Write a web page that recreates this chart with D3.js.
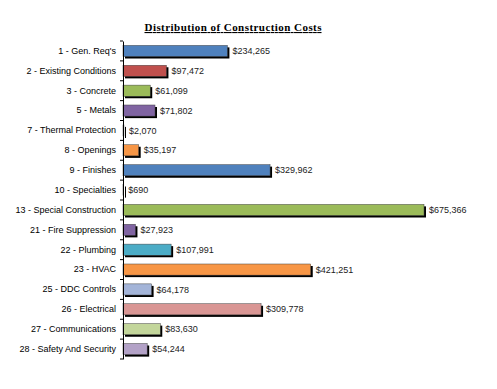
<!DOCTYPE html>
<html>
<head>
<style>
  body { margin: 0; background: #fff; }
  text { font-family: "Liberation Sans", Arial, sans-serif; }
</style>
</head>
<body>
<svg id="chart" width="497" height="389"></svg>
<script src="https://cdn.jsdelivr.net/npm/d3@7"></script>
<script>
// chart data
const categories = ["1 - Gen. Req's", "2 - Existing Conditions", "3 - Concrete", "5 - Metals",
  "7 - Thermal Protection", "8 - Openings", "9 - Finishes", "10 - Specialties",
  "13 - Special Construction", "21 - Fire Suppression", "22 - Plumbing", "23 - HVAC",
  "25 - DDC Controls", "26 - Electrical", "27 - Communications", "28 - Safety And Security"]
const costs = [234265, 97472, 61099, 71802, 2070, 35197, 329962, 690,
  675366, 27923, 107991, 421251, 64178, 309778, 83630, 54244]
const barColors = ["#4F81BD", "#C0504D", "#9BBB59", "#8064A2", "#4BACC6", "#F79646", "#4F81BD", "#C0504D",
  "#9BBB59", "#8064A2", "#4BACC6", "#F79646", "#A3B4D8", "#D99694", "#C3D69B", "#B3A2C7"]
const title = "Distribution of Construction Costs"

let svg = d3.select("#chart")
let plotLeft = 123, plotTop = 41, plotBottom = 359

let x = d3.scaleLinear().domain([0, 675366]).range([plotLeft, plotLeft + 301])
let y = d3.scaleBand().domain(categories).range([plotTop, plotBottom]).paddingInner(0.44).paddingOuter(0.22)

let rows = categories.map((c, i) => ({ cat: c, val: costs[i], col: barColors[i] }))

// shadows
svg.append("g").selectAll("rect").data(rows).join("rect")
  .attr("x", x(0) + 2)
  .attr("y", d => y(d.cat) + 2)
  .attr("width", d => Math.max(1, x(d.val) - x(0)))
  .attr("height", y.bandwidth())
  .attr("fill", "#000")

// bars
svg.append("g").selectAll("rect").data(rows).join("rect")
  .attr("x", x(0))
  .attr("y", d => y(d.cat))
  .attr("width", d => Math.max(0.5, x(d.val) - x(0)))
  .attr("height", y.bandwidth())
  .attr("fill", d => d.col)
  .attr("stroke", "#444")
  .attr("stroke-width", 0.5)

// value labels
svg.append("g").selectAll("text").data(rows).join("text")
  .attr("x", d => x(d.val) + 5)
  .attr("y", d => y(d.cat) + y.bandwidth() / 2)
  .attr("dy", "0.35em")
  .attr("font-size", "9px")
  .attr("fill", "#222")
  .text(d => "$" + d3.format(",")(d.val))

// category axis
let yAxis = d3.axisLeft(y).tickSize(0).tickPadding(7)
let ax = svg.append("g").attr("transform", `translate(${plotLeft},0)`).call(yAxis)
ax.select(".domain").attr("stroke", "#000").attr("stroke-width", 1)
ax.selectAll("text").attr("font-size", "9px").attr("fill", "#000")
// boundary ticks
let bounds = categories.map(c => y(c) - y.step() * y.paddingInner() / 2)
bounds.push(plotBottom)
ax.selectAll("line.bt").data(bounds).join("line").attr("class", "bt")
  .attr("x1", -3).attr("x2", 0).attr("y1", d => d).attr("y2", d => d)
  .attr("stroke", "#000")

// title
svg.append("text")
  .attr("x", 233).attr("y", 31)
  .attr("text-anchor", "middle")
  .style("font-family", "'Liberation Serif', 'Times New Roman', serif")
  .attr("font-weight", "bold")
  .attr("font-size", "11px")
  .attr("text-decoration", "underline")
  .attr("textLength", 177)
  .text(title)
</script>
</body>
</html>
